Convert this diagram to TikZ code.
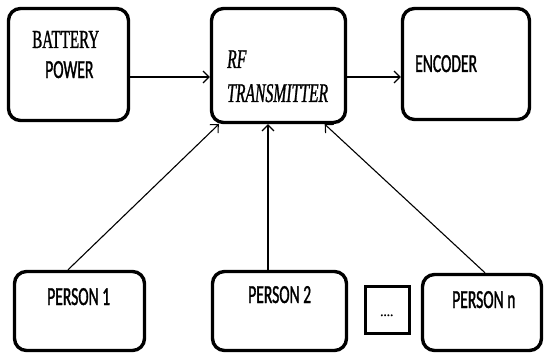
\documentclass[tikz,border=0pt]{standalone}
\usepackage{fontspec}
\setmainfont{Liberation Serif}
\newfontfamily\boxsans[FakeStretch=0.6,FakeBold=1.2]{Carlito}
\newfontfamily\boxserif[FakeStretch=0.58,FakeBold=1]{Liberation Serif}
\newfontfamily\dotsans[FakeBold=1.5]{Carlito}
\usetikzlibrary{arrows.meta}

\begin{document}
\begin{tikzpicture}[x=1pt,y=-1pt]
      \tikzset{
        blk/.style={draw,line width=3.4pt,rounded corners=12pt,inner sep=0pt},
        sq/.style={draw,line width=3.4pt,inner sep=0pt},
        txt/.style={inner sep=0pt,anchor=base west,font=\boxsans\fontsize{26}{28}\selectfont},
        rmtxt/.style={txt,font=\boxserif\fontsize{26}{28}\selectfont},
        arr/.style={line width=1.1pt,-{Straight Barb[length=6pt,width=12pt,line width=1.1pt]}}
      }
      \useasboundingbox (0,0) rectangle (544,353);

      % top row
      \node[blk,minimum width=120pt,minimum height=112pt] (bat) at (68.5,64.5) {};
      \node[blk,minimum width=134pt,minimum height=114pt] (rf) at (278.5,65.5) {};
      \node[blk,minimum width=127pt,minimum height=111pt] (enc) at (466,64) {};

      % bottom row
      \node[blk,minimum width=130pt,minimum height=79pt] (p1) at (79.5,311) {};
      \node[blk,minimum width=134pt,minimum height=79pt] (p2) at (279.5,311) {};
      \node[sq,minimum width=44pt,minimum height=47pt] (more) at (387.5,310) {};
      \node[blk,minimum width=119pt,minimum height=76pt] (pn) at (482,312.5) {};

      % texts
      \node[rmtxt] (batT) at (32,48) {BATTERY};
      \node[txt] (batP) at (45,78) {POWER};
      \node[rmtxt,font=\boxserif\itshape\fontsize{27}{28}\selectfont] (rfA) at (227,68) {RF};
      \node[rmtxt,font=\boxserif\itshape\fontsize{27}{28}\selectfont] (rfB) at (227,102) {TRANSMITTER};
      \node[txt] (encT) at (415,72) {ENCODER};
      \node[txt] (p1T) at (47,305) {PERSON 1};
      \node[txt] (p2T) at (248,303) {PERSON 2};
      \node[txt] (pnT) at (452,308) {PERSON n};
      \node[txt,font=\dotsans\fontsize{13}{16}\selectfont] (moreT) at (380,316) {....};

      \draw ([yshift=-12.5pt]bat.east) edge[arr] ([yshift=-11.5pt]rf.west)
            ([yshift=-11.5pt]rf.east) edge[arr] ([yshift=-13pt]enc.west)
            ([xshift=-11.5pt]p1.north) edge[arr] ([xshift=9pt]rf.south west)
            ([xshift=-11.5pt]p2.north) edge[arr] ([xshift=-10.5pt]rf.south)
            ([xshift=3pt]pn.north) edge[arr] ([xshift=-22.5pt]rf.south east);
    \end{tikzpicture}
\end{document}
